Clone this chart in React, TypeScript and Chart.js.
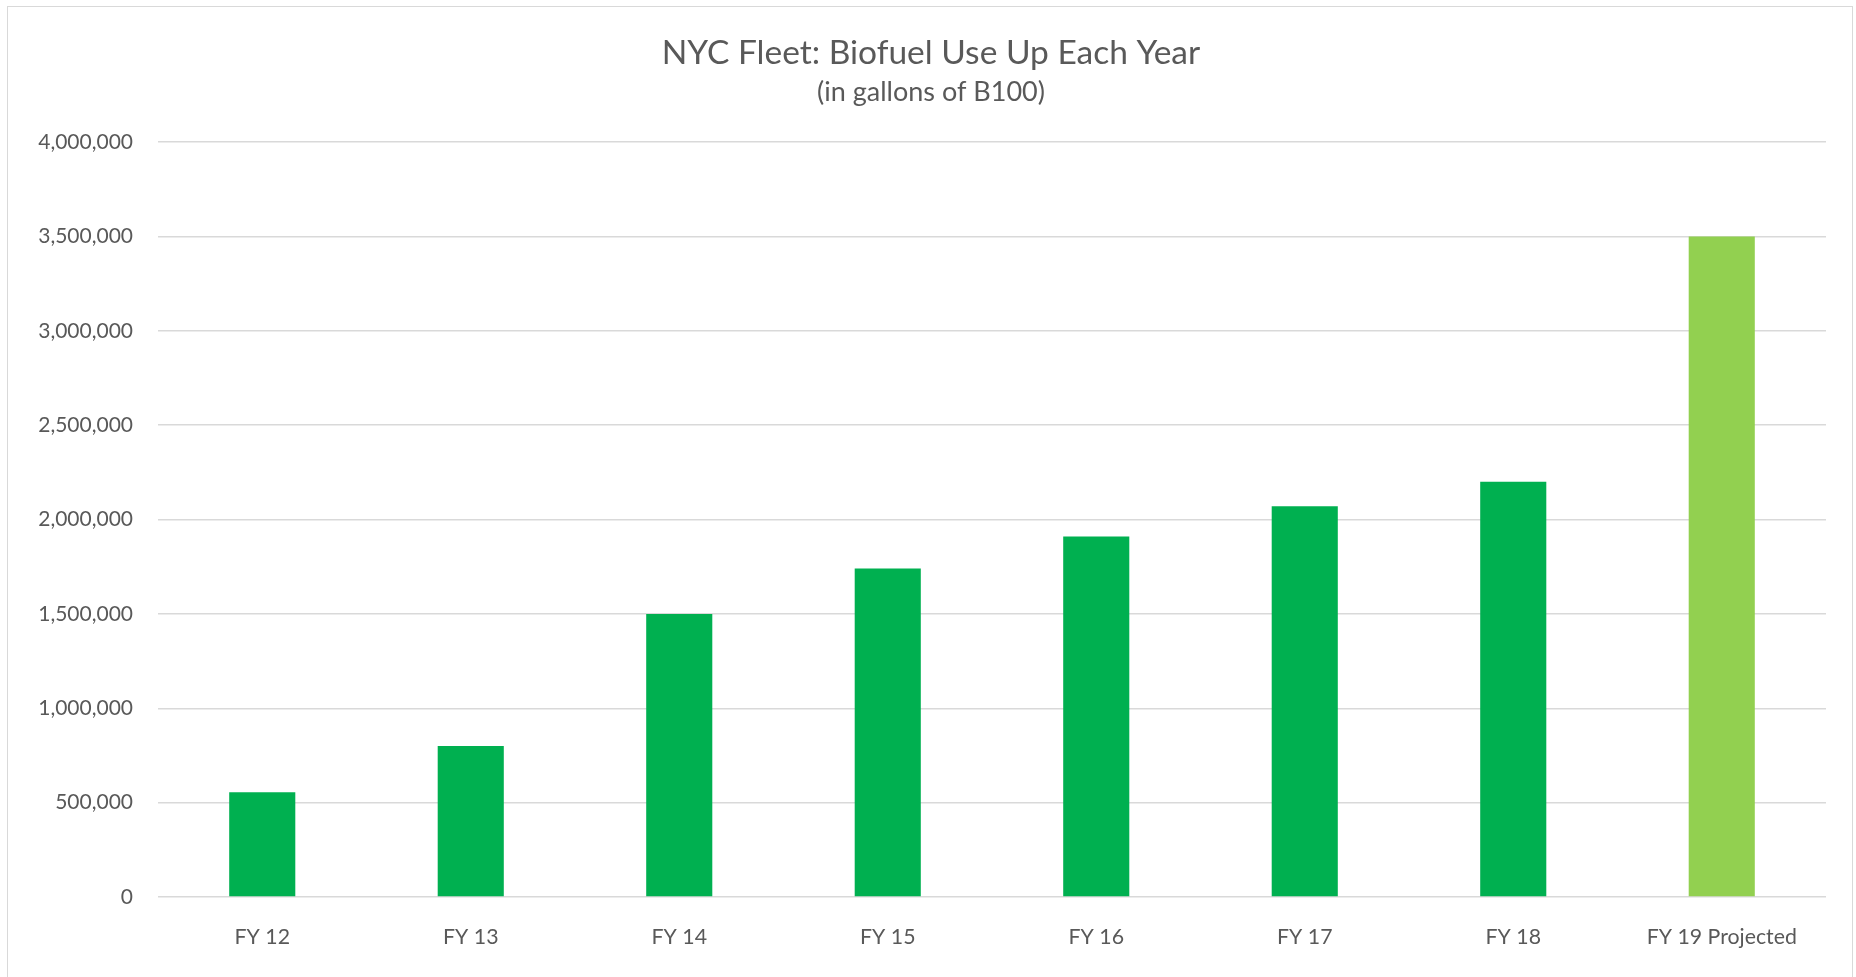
import React, { useEffect, useRef } from "react";
import { Chart, registerables } from "chart.js";

Chart.register(...registerables);

const categories = ["FY 12", "FY 13", "FY 14", "FY 15", "FY 16", "FY 17", "FY 18", "FY 19 Projected"];
const gallons = [555000, 800000, 1500000, 1740000, 1910000, 2070000, 2200000, 3500000];
const barColors = ["#00B050", "#00B050", "#00B050", "#00B050", "#00B050", "#00B050", "#00B050", "#92D050"];
const titleText = "NYC Fleet: Biofuel Use Up Each Year";
const subtitleText = "(in gallons of B100)";
const yMin = 0;
const yMax = 4000000;
const yStep = 500000;

const FONT = "Lato, 'Open Sans', 'Noto Sans', sans-serif";
const TEXT = "#595959";
const GRID = "#D9D9D9";
const TITLE_SHIFT = 14;

const shiftTitles = {
  id: "shiftTitles",
  afterLayout(chart: any) {
    for (const b of chart.boxes) {
      if (b && b.options && typeof b.options.text === "string" && b.position === "top") {
        b.left += TITLE_SHIFT;
        b.right += TITLE_SHIFT;
      }
    }
  },
};

export default function App() {
  const ref = useRef<HTMLCanvasElement | null>(null);

  useEffect(() => {
    const canvas = ref.current;
    if (!canvas) return;
    const chart = new Chart(canvas, {
      type: "bar",
      data: {
        labels: categories,
        datasets: [
          {
            label: "Gallons of B100",
            data: gallons,
            backgroundColor: barColors,
            borderWidth: 0,
            barPercentage: 0.317,
            categoryPercentage: 1,
          },
        ],
      },
      plugins: [shiftTitles],
      options: {
        responsive: false,
        animation: false,
        devicePixelRatio: 1,
        layout: { padding: { left: 8, right: 30, top: 0, bottom: 0 } },
        plugins: {
          legend: { display: false },
          tooltip: { enabled: false },
          title: {
            display: true,
            text: titleText,
            color: TEXT,
            font: { family: FONT, size: 33.5, weight: "normal" },
            padding: { top: 33, bottom: 0 },
          },
          subtitle: {
            display: true,
            text: subtitleText,
            color: TEXT,
            font: { family: FONT, size: 27, weight: "normal" },
            padding: { top: 2.5, bottom: 34 },
          },
        },
        scales: {
          x: {
            grid: { display: false, drawTicks: false },
            border: { display: false },
            ticks: {
              color: TEXT,
              font: { family: FONT, size: 21.3 },
              padding: 27,
              maxRotation: 0,
              autoSkip: false,
            },
            afterFit: (scale: any) => {
              scale.height = 80;
            },
          },
          y: {
            min: yMin,
            max: yMax,
            grid: { color: GRID, lineWidth: 1.5, drawTicks: false },
            border: { display: false },
            ticks: {
              stepSize: yStep,
              color: TEXT,
              font: { family: FONT, size: 21 },
              padding: 25,
              callback: (v: any) => Number(v).toLocaleString("en-US"),
            },
            afterFit: (scale: any) => {
              scale.width = 150;
            },
          },
        },
      },
    });
    return () => chart.destroy();
  }, []);

  return (
    <div style={{ position: "fixed", left: 0, top: 0, width: 1856, height: 977, background: "#fff", overflow: "hidden" }}>
      <div
        style={{
          position: "absolute",
          left: 7,
          top: 6,
          width: 1846,
          height: 1000,
          border: "1px solid #D9D9D9",
          boxSizing: "border-box",
          background: "#fff",
        }}
      />
      <canvas ref={ref} width={1856} height={977} style={{ position: "absolute", left: 0, top: 0, width: 1856, height: 977 }} />
    </div>
  );
}
